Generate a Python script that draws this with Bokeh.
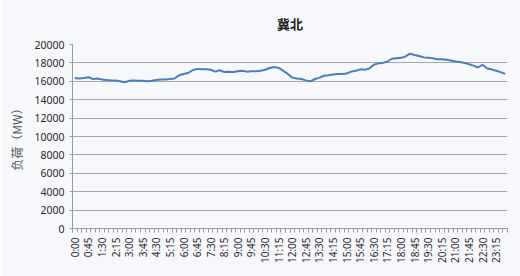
import math
from bokeh.plotting import figure
from bokeh.models import Range1d, FixedTicker, ColumnDataSource
from bokeh.embed import file_html
from bokeh.resources import INLINE

# 15-minute readings (minutes after midnight) of load in MW
minutes = list(range(0, 1440, 15))
load_mw = [
    16350, 16300, 16350, 16450, 16250, 16300, 16200, 16150, 16100, 16100,
    16000, 15900, 16050, 16100, 16050, 16050, 16000, 16050, 16150, 16200,
    16200, 16250, 16300, 16650, 16800, 16900, 17200, 17350, 17300, 17300,
    17250, 17050, 17200, 17000, 17050, 17000, 17100, 17150, 17050, 17100,
    17100, 17150, 17250, 17450, 17550, 17450, 17150, 16800, 16400, 16300,
    16250, 16100, 16000, 16250, 16400, 16600, 16650, 16750, 16800, 16800,
    16850, 17050, 17150, 17300, 17250, 17400, 17800, 17950, 18000, 18150,
    18450, 18500, 18550, 18700, 19000, 18850, 18750, 18600, 18550, 18500,
    18400, 18400, 18350, 18250, 18150, 18100, 18000, 17850, 17700, 17500,
    17800, 17400, 17300, 17150, 17000, 16800,
]
y_ticks = list(range(0, 20001, 2000))
label_minutes = list(range(0, 1440, 45))
tick_labels = ["%d:%02d" % (m // 60, m % 60) for m in label_minutes]

src = ColumnDataSource(dict(x=[m + 7.5 for m in minutes], y=load_mw))

p = figure(width=520, height=276, output_backend="svg", toolbar_location=None,
           x_range=Range1d(0, 1440), y_range=Range1d(0, 20000),
           min_border_left=72, min_border_right=13, min_border_top=0,
           min_border_bottom=48, background_fill_color="#f6f8fb",
           border_fill_color="#f6f8fb", outline_line_color=None)

p.title.text = "冀北"
p.title.align = "center"
p.title.text_font = "Noto Sans CJK SC"
p.title.text_font_size = "13px"
p.title.text_font_style = "bold"
p.title.text_color = "#222222"
p.title.standoff = 23

p.line("x", "y", source=src, line_color="#4a7ebb", line_width=2)

# y axis
p.yaxis.ticker = FixedTicker(ticks=y_ticks)
p.yaxis.major_label_text_font = "Noto Sans"
p.yaxis.major_label_text_font_size = "10.5px"
p.yaxis.major_label_text_color = "#2a2a2a"
p.yaxis.major_tick_out = 3
p.yaxis.major_tick_in = 0
p.yaxis.minor_tick_line_color = None
p.yaxis.axis_line_color = "#9a9a9a"
p.yaxis.major_tick_line_color = "#9a9a9a"
p.yaxis.axis_label = "负荷（MW）"
p.yaxis.axis_label_text_font = "Noto Sans CJK SC"
p.yaxis.axis_label_text_font_size = "12px"
p.yaxis.axis_label_text_font_style = "normal"
p.yaxis.axis_label_text_color = "#555555"
p.yaxis.axis_label_standoff = 6

# x axis
p.xaxis.ticker = FixedTicker(ticks=[m + 7.5 for m in label_minutes],
                             minor_ticks=list(range(0, 1441, 15)))
p.xaxis.major_label_overrides = {m + 7.5: t for m, t in zip(label_minutes, tick_labels)}
p.xaxis.major_label_orientation = math.pi / 2
p.xaxis.major_label_text_font = "Noto Sans"
p.xaxis.major_label_text_font_size = "10px"
p.xaxis.major_label_text_color = "#2a2a2a"
p.xaxis.major_tick_line_color = None
p.xaxis.major_tick_out = 4
p.xaxis.major_label_standoff = 5
p.xaxis.minor_tick_out = 4
p.xaxis.minor_tick_in = 0
p.xaxis.minor_tick_line_color = "#9a9a9a"
p.xaxis.axis_line_color = "#9a9a9a"

p.xgrid.grid_line_color = None
p.ygrid.grid_line_color = "#a8a8a8"
p.ygrid.ticker = FixedTicker(ticks=y_ticks)

open("out.html", "w").write(file_html(p, INLINE))
